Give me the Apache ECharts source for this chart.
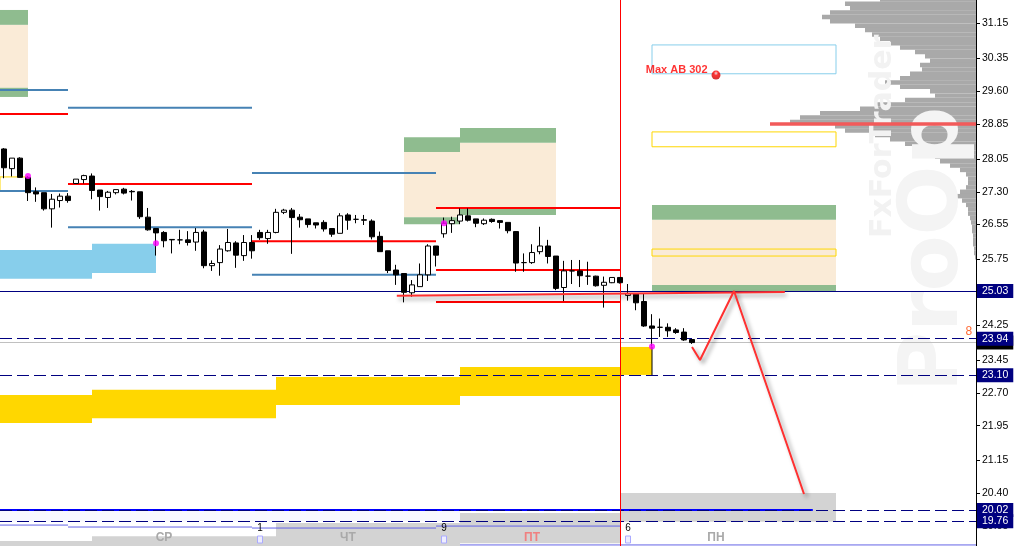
<!DOCTYPE html>
<html>
<head>
<meta charset="utf-8">
<script src="https://cdn.jsdelivr.net/npm/echarts@6/dist/echarts.min.js"></script>
<style>
html,body{margin:0;padding:0;background:#fff;}
#main{width:1019px;height:546px;}
</style>
</head>
<body>
<div id="main"></div>
<script>
// свечи H1, индексы баров 0..86
var opens  = [28.28,27.83,28.07,27.63,27.30,27.28,26.91,27.10,27.20,27.49,27.58,27.66,27.34,27.17,27.28,27.36,27.31,27.30,26.72,26.46,
              26.37,26.21,26.20,26.20,26.15,26.38,25.61,25.68,25.95,26.13,25.84,26.14,26.37,26.23,26.37,26.83,26.88,26.72,26.68,26.59,
              26.60,26.46,26.35,26.77,26.67,26.66,26.63,26.28,25.95,25.51,25.43,24.99,25.13,25.40,26.06,26.34,26.57,26.63,26.75,26.68,
              26.57,26.67,26.64,26.60,26.39,25.68,25.68,25.93,26.06,25.83,25.11,25.49,25.49,25.37,25.37,25.16,25.22,25.34,24.93,24.96,
              24.79,24.23,24.20,24.20,24.14,24.09,23.92];
var closes = [27.85,28.07,27.63,27.28,27.25,26.91,27.13,27.20,27.10,27.59,27.67,27.33,27.19,27.29,27.35,27.27,27.30,26.73,26.43,26.36,
              26.18,26.20,26.20,26.14,26.37,25.61,25.66,25.99,26.14,25.85,26.14,25.95,26.25,26.37,26.83,26.88,26.71,26.66,26.55,26.54,
              26.45,26.33,26.75,26.65,26.67,26.65,26.27,25.93,25.50,25.40,25.00,25.17,25.40,26.06,25.85,26.58,26.64,26.77,26.65,26.58,
              26.65,26.62,26.60,26.41,25.67,25.68,25.91,26.06,25.82,25.09,25.49,25.49,25.38,25.37,25.15,25.23,25.34,25.22,24.97,24.76,
              24.23,24.18,24.20,24.12,24.08,23.91,23.85];
var lows   = [27.61,27.65,27.62,27.09,27.07,26.87,26.48,26.94,27.05,27.49,27.49,27.13,26.87,26.93,27.24,27.24,27.10,26.68,26.41,25.84,
              26.03,25.89,26.10,26.07,25.95,25.55,25.49,25.38,25.93,25.56,25.72,25.77,26.20,26.11,26.35,26.79,25.88,26.48,26.48,26.46,
              26.39,26.27,26.35,26.43,26.58,26.54,26.21,25.93,25.44,25.17,24.77,24.90,25.13,25.26,25.59,26.25,26.36,26.56,26.62,26.49,
              26.54,26.59,26.46,26.35,25.47,25.47,25.65,25.87,25.66,25.05,24.80,25.19,25.12,25.17,25.13,24.65,25.21,25.20,24.81,24.59,
              24.21,23.76,23.98,23.98,24.05,23.89,23.82];
var highs  = [28.30,28.07,28.09,27.66,27.40,27.28,27.25,27.26,27.27,27.59,27.69,27.72,27.34,27.32,27.35,27.39,27.34,27.30,26.93,26.46,
              26.40,26.21,26.43,26.40,26.47,26.43,25.73,26.08,26.45,26.17,26.31,26.31,26.43,26.43,26.91,26.91,26.93,26.79,26.68,26.59,
              26.65,26.46,26.81,26.81,26.77,26.77,26.67,26.39,25.95,25.63,25.43,25.28,25.66,26.10,26.06,26.71,26.73,26.92,26.92,26.68,
              26.69,26.69,26.65,26.60,26.40,25.89,26.10,26.50,26.20,25.83,25.72,25.74,25.74,25.70,25.38,25.36,25.34,25.34,25.19,24.96,
              24.98,24.50,24.40,24.29,24.18,24.18,23.93];

// шкала цен справа
var priceTicks = [31.15,30.35,29.60,28.85,28.05,27.30,26.55,25.75,24.25,23.45,22.70,21.95,21.15,20.40,19.65];
var priceLevels = [25.03,23.94,23.10,20.02,19.76];
var bidPrice = 23.85;

// дни недели и метки внизу
var dayNames = ['СР','ЧТ','ПТ','ПН'];
var dayBars = [20,43,66,89];
var dateMarks = ['1','9','6'];
var dateMarkBars = [32,55,78];
var separatorBar = 77;

// зоны: [бар от, бар до, цена верх, цена низ]
var beigeZones = [[-0.5,3,31.12,29.68],[50,57,28.21,26.72],[57,69,28.42,26.93],[81,104,26.66,25.17]];
var greenZones = [[-0.5,3,31.46,31.12],[-0.5,3,29.68,29.47],[50,57,28.55,28.21],[50,57,26.72,26.56],
                  [57,69,28.76,28.42],[57,69,26.93,26.77],[81,104,27.00,26.66],[81,104,25.17,25.01]];
var skyZones = [[-0.5,11,25.97,25.31],[11,19,26.11,25.44]];
var goldZones = [[-0.5,11,22.65,22.01],[11,34,22.77,22.12],[34,57,23.06,22.42],[57,77,23.29,22.63],[77,81,23.75,23.11]];
var grayZones = [[-0.5,11,19.31,18.50],[11,34,19.42,18.50],[34,57,19.72,18.50],[57,77,19.95,19.26],[77,104,20.41,19.75]];
var ghostZones = [[-0.5,57,20.02,19.75]];
var skyBoxes = [[81,104,30.66,30.00]];
var goldBoxes = [[-0.5,3,27.64,27.32],[81,104,28.67,28.33],[81,104,25.99,25.83]];

// уровни: [бар от, бар до, цена]
var redLevels = [[-0.5,8,29.08],[8,31,27.48],[31,54,26.17],[54,77,26.93],[54,77,25.51],[54,77,24.78]];
var steelLevels = [[-0.5,8,29.63],[8,31,29.22],[-0.5,8,27.32],[8,31,26.49],[31,54,27.73],[31,54,25.40]];
var thinBlueLevels = [[-0.5,8,19.675],[8,31,19.63],[31,54,19.607],[54,77,19.652],[57,121.5,19.22]];
var blueLevels = [[-0.5,101.1,20.02]];
var edgeLines = [[81,23.75,23.10]];

// разметка прогноза
var trendLine = [[49.1,24.92],[97.6,25.01]];
var forecastPath = [[86,23.75],[87,23.45],[91.25,25.03],[100,20.385]];
var magentaDots = [[3,27.66],[19,26.12],[55,26.58],[81,23.76]];
var maxAbPoint = [89,29.97];
var maxAbText = 'Max AB 302';
var spreadPoint = [120.6,24.10];
var spreadText = '8';

// профиль объёма
var profPrices = [31.7,31.6,31.5,31.4,31.3,31.2,31.1,31.0,30.9,30.8,30.7,30.6,30.5,30.4,30.3,30.2,30.1,30.0,29.9,29.8,
                  29.7,29.6,29.5,29.4,29.3,29.2,29.1,29.0,28.9,28.8,28.7,28.6,28.5,28.4,28.3,28.2,28.1,28.0,27.9,27.8,
                  27.7,27.6,27.5,27.4,27.3,27.2,27.1,27.0,26.9,26.8,26.7,26.6,26.5,26.4,26.3,26.2,26.1,26.0,25.9,25.8];
var profVol = [96,131,126,146,154,146,121,111,104,96,86,76,61,51,46,56,54,66,76,91,
               76,46,41,71,101,116,156,176,186,141,131,101,86,71,61,51,41,36,26,16,
               10,8,8,10,16,21,14,10,8,8,6,5,4,4,3,3,3,2,2,1];
var profPeak = [[28.85,206]];

var categories = [];
for (var i = 0; i < 122; i++) categories.push('');
for (var d = 0; d < dayBars.length; d++) categories[dayBars[d]] = dayNames[d];

var candleData = [];
for (var k = 0; k < opens.length; k++) candleData.push([opens[k], closes[k], lows[k], highs[k]]);

function zoneSeries(data, style, z) {
	return {
		type: 'custom', xAxisIndex: 1, yAxisIndex: 0, z: z, silent: true,
		encode: {x: [0, 1], y: [2, 3]},
		data: data,
		renderItem: function (params, api) {
			var a = api.coord([api.value(0), api.value(2)]);
			var b = api.coord([api.value(1), api.value(3)]);
			return {type: 'rect', shape: {x: a[0], y: a[1], width: b[0] - a[0], height: b[1] - a[1]}, style: style};
		}
	};
}
function levelSeries(data, color, width, z) {
	return {
		type: 'custom', xAxisIndex: 1, yAxisIndex: 0, z: z, silent: true,
		encode: {x: [0, 1], y: 2},
		data: data,
		renderItem: function (params, api) {
			var a = api.coord([api.value(0), api.value(2)]);
			var b = api.coord([api.value(1), api.value(2)]);
			return {type: 'line', shape: {x1: a[0], y1: a[1], x2: b[0], y2: b[1]}, style: {stroke: color, lineWidth: width}};
		}
	};
}
function boxLabel(bg) {
	return {
		show: true, position: 'end', distance: 1,
		formatter: function (p) { return p.value.toFixed(2); },
		color: '#fff', backgroundColor: bg, padding: [2, 5, 1, 5],
		fontFamily: 'Liberation Sans', fontSize: 10.5
	};
}

var chart = echarts.init(document.getElementById('main'));

var levelMarks = [
	{yAxis: bidPrice, lineStyle: {color: '#C0C0C0', type: 'solid', width: 1}, label: boxLabel('#000')}
];
for (var m = 0; m < priceLevels.length; m++) {
	levelMarks.push({
		yAxis: priceLevels[m],
		lineStyle: {color: '#000080', width: 1, type: m === 0 ? 'solid' : [12, 5]},
		label: boxLabel('#000080')
	});
}
levelMarks.push({xAxis: separatorBar, lineStyle: {color: '#FF0000', width: 1, type: 'solid'}, label: {show: false}});

chart.setOption({
	animation: false,
	backgroundColor: '#fff',
	grid: {left: 0, right: 43, top: 0, bottom: 0},
	xAxis: [
		{
			type: 'category', data: categories, boundaryGap: true,
			axisLine: {show: false}, axisTick: {show: false}, splitLine: {show: false},
			axisLabel: {
				inside: true, interval: 0, margin: 2,
				fontFamily: 'Liberation Sans', fontSize: 12, fontWeight: 'bold',
				color: function (v) { return v === 'ПТ' ? '#F08080' : '#A9A9A9'; }
			},
			z: 6
		},
		{type: 'value', min: -0.5, max: 121.5, show: false},
		{type: 'value', min: 0, max: 976, inverse: true, show: false}
	],
	yAxis: {
		type: 'value', position: 'right', min: 19.196, max: 31.688, scale: true,
		axisLine: {show: true, onZero: false, lineStyle: {color: '#000', width: 1}},
		axisTick: {show: true, length: 4, lineStyle: {color: '#000'}, customValues: priceTicks},
		axisLabel: {
			customValues: priceTicks, margin: 6, color: '#000', padding: [4, 0, 0, 0],
			fontFamily: 'Liberation Sans', fontSize: 10.5,
			formatter: function (v) { return v.toFixed(2); }
		},
		splitLine: {show: false}
	},
	graphic: [
		{type: 'text', z: 1, x: 868, y: 238, rotation: Math.PI / 2,
		 style: {text: 'FxForTrader', fill: '#F2F2F2', font: 'bold 30px "DejaVu Sans"'}},
		{type: 'text', z: 1, x: 895, y: 392, rotation: Math.PI / 2,
		 style: {text: 'ProOp', fill: '#F4F4F4', font: 'bold 82px "DejaVu Sans"'}}
	],
	series: [
		{
			type: 'custom', xAxisIndex: 2, yAxisIndex: 0, z: 0, silent: true,
			encode: {x: 1, y: 0},
			data: profPrices.map(function (p, j) { return [p, profVol[j]]; }),
			renderItem: function (params, api) {
				var a = api.coord([api.value(1), api.value(0) + 0.051]);
				var b = api.coord([0, api.value(0) - 0.051]);
				return {type: 'rect', shape: {x: a[0], y: a[1], width: b[0] - a[0], height: b[1] - a[1]}, style: {fill: '#A9A9A9'}};
			}
		},
		{
			type: 'custom', xAxisIndex: 2, yAxisIndex: 0, z: 2, silent: true,
			encode: {x: 1, y: 0},
			data: profPeak,
			renderItem: function (params, api) {
				var a = api.coord([api.value(1), api.value(0) + 0.04]);
				var b = api.coord([0, api.value(0) - 0.04]);
				return {type: 'rect', shape: {x: a[0], y: a[1], width: b[0] - a[0], height: b[1] - a[1]}, style: {fill: '#F25A5A'}};
			}
		},
		zoneSeries(ghostZones, {fill: '#F8F8FF'}, 1),
		zoneSeries(grayZones, {fill: '#D3D3D3'}, 1),
		zoneSeries(beigeZones, {fill: '#FAEBD7'}, 1),
		zoneSeries(greenZones, {fill: '#8FBC8F'}, 1),
		zoneSeries(skyZones, {fill: '#87CEEB'}, 1),
		zoneSeries(goldZones, {fill: '#FFD700'}, 1),
		zoneSeries(skyBoxes, {fill: 'none', stroke: '#87CEEB', lineWidth: 1}, 2),
		zoneSeries(goldBoxes, {fill: 'none', stroke: '#FFD700', lineWidth: 1}, 2),
		levelSeries(thinBlueLevels, '#6464E6', 1, 3),
		levelSeries(blueLevels, '#0000FF', 2, 4),
		levelSeries(redLevels, '#FF0000', 2, 4),
		levelSeries(steelLevels, '#4682B4', 2, 4),
		{
			type: 'custom', xAxisIndex: 1, yAxisIndex: 0, z: 4, silent: true,
			encode: {x: 0, y: [1, 2]},
			data: edgeLines,
			renderItem: function (params, api) {
				var a = api.coord([api.value(0), api.value(1)]);
				var b = api.coord([api.value(0), api.value(2)]);
				return {type: 'line', shape: {x1: a[0], y1: a[1], x2: b[0], y2: b[1]}, style: {stroke: '#000', lineWidth: 1}};
			}
		},
		{
			type: 'candlestick', xAxisIndex: 0, yAxisIndex: 0, z: 5,
			barWidth: 5,
			data: candleData,
			itemStyle: {color: '#fff', color0: '#000', borderColor: '#000', borderColor0: '#000', borderWidth: 1},
			markLine: {silent: true, symbol: ['none', 'none'], animation: false, data: levelMarks}
		},
		{
			type: 'line', xAxisIndex: 1, yAxisIndex: 0, z: 6, symbol: 'none', silent: true,
			data: trendLine,
			lineStyle: {color: '#FF3030', width: 2, shadowColor: 'rgba(0,0,0,0.4)', shadowBlur: 4, shadowOffsetX: 2, shadowOffsetY: 3}
		},
		{
			type: 'line', xAxisIndex: 1, yAxisIndex: 0, z: 6, symbol: 'none', silent: true,
			data: forecastPath,
			lineStyle: {color: '#FF3030', width: 2, shadowColor: 'rgba(0,0,0,0.4)', shadowBlur: 4, shadowOffsetX: 3, shadowOffsetY: 3}
		},
		{
			type: 'scatter', xAxisIndex: 0, yAxisIndex: 0, z: 7, silent: true,
			symbolSize: 6, itemStyle: {color: '#FF00FF'},
			data: magentaDots
		},
		{
			type: 'scatter', xAxisIndex: 1, yAxisIndex: 0, z: 7, silent: true,
			symbolSize: 9,
			itemStyle: {
				color: {type: 'radial', x: 0.5, y: 0.3, r: 0.7, colorStops: [
					{offset: 0, color: '#FFE0E0'}, {offset: 0.35, color: '#FF0000'}, {offset: 1, color: '#C00000'}]}
			},
			data: [maxAbPoint],
			label: {
				show: true, position: 'left', distance: 4, offset: [0, -5],
				formatter: maxAbText, color: '#FF0000',
				fontFamily: 'Liberation Sans', fontSize: 11, fontWeight: 'bold'
			}
		},
		{
			type: 'scatter', xAxisIndex: 1, yAxisIndex: 0, z: 7, silent: true,
			symbolSize: 1, itemStyle: {color: 'rgba(0,0,0,0)'}, data: [spreadPoint],
			label: {show: true, position: 'inside', formatter: spreadText, color: '#FF4500', fontFamily: 'Liberation Sans', fontSize: 12}
		},
		{
			type: 'custom', xAxisIndex: 1, yAxisIndex: 0, z: 7, silent: true,
			encode: {x: 0},
			data: dateMarkBars.map(function (b, j) { return [b, dateMarks[j]]; }),
			renderItem: function (params, api) {
				var x = api.coord([api.value(0), 25])[0];
				var bottom = params.coordSys.y + params.coordSys.height;
				return {type: 'group', children: [
					{type: 'text', x: x, y: bottom - 18, style: {text: String(api.value(1)), fill: '#000', font: '10px "Liberation Sans"', align: 'center', verticalAlign: 'middle'}},
					{type: 'rect', shape: {x: x - 2.5, y: bottom - 10, width: 5, height: 7}, style: {fill: '#EEEEFF', stroke: '#AAAAFF', lineWidth: 1}}
				]};
			}
		}
	]
});
</script>
</body>
</html>
